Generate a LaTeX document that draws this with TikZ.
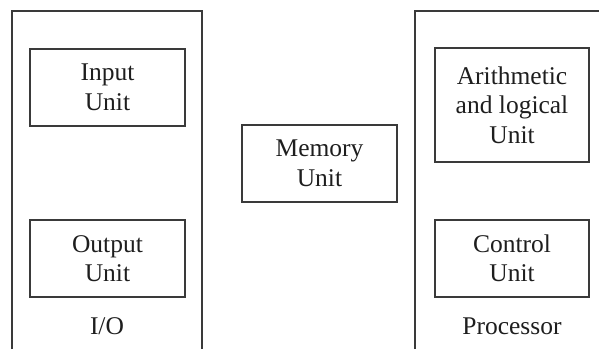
\documentclass[tikz,border=0pt]{standalone}
\usepackage{fontspec}
\setmainfont{Liberation Serif}
\usetikzlibrary{positioning}

\definecolor{framegray}{HTML}{3A3A3A}
\definecolor{textgray}{HTML}{1E1E1E}

\tikzset{
    unitbox/.style={draw=framegray, line width=1.5pt, minimum width=155pt, minimum height=77pt,
        inner sep=0pt, align=center, text=textgray,
        font=\fontsize{25.5}{29.5}\selectfont},
    grouplabel/.style={text=textgray, inner sep=0pt, font=\fontsize{25.5}{29.5}\selectfont}
}

\begin{document}
\begin{tikzpicture}[x=1pt, y=-1pt]
    \useasboundingbox (0,0) rectangle (599,349);

    % outer frames, open at the bottom
    \draw[framegray, line width=1.5pt] (12,349) -- (12,11) -- (202,11) -- (202,349);
    \draw[framegray, line width=1.5pt] (415,349) -- (415,11) -- (599,11);

    \node[unitbox] (input) at (107.5,87.5) {Input\\Unit};
    \node[unitbox] (output) at (107.5,258.5) {Output\\Unit};
    \node[grouplabel] (io) at (107,326) {I/O};

    \node[unitbox] (memory) at (319.5,163.5) {Memory\\Unit};

    \node[unitbox, minimum width=154pt, minimum height=114pt] (alu) at (512,105) {Arithmetic\\and logical\\Unit};
    \node[unitbox, minimum width=154pt] (control) at (512,258.5) {Control\\Unit};
    \node[grouplabel] (processor) at (512,326) {Processor};
\end{tikzpicture}
\end{document}
